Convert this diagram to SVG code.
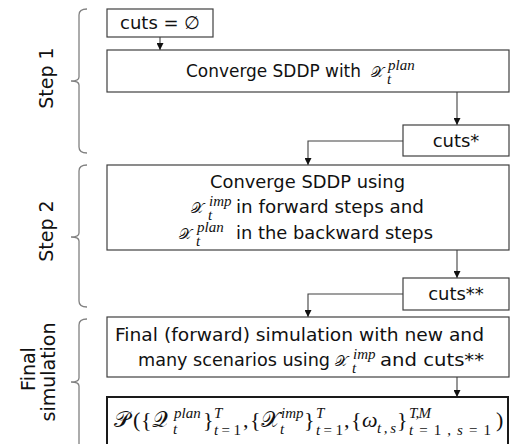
<svg xmlns="http://www.w3.org/2000/svg" width="510" height="444" viewBox="0 0 510 444">
<defs>
<style>
.box{fill:#fff;stroke:#404040;stroke-width:1.2}
.box2{fill:#fff;stroke:#1a1a1a;stroke-width:2}
.t{font-family:"DejaVu Sans","Liberation Sans",sans-serif;font-size:18px;fill:#111}
.c{text-anchor:middle}
.lab{font-family:"DejaVu Sans","Liberation Sans",sans-serif;font-size:19px;fill:#111;text-anchor:middle}
.m{font-family:"DejaVu Serif","Liberation Serif",serif;font-size:15px;fill:#111}
.mi{font-family:"Liberation Serif",serif;font-style:italic;font-size:15px;fill:#111}
.lx{font-family:"Liberation Serif","DejaVu Serif",serif;font-size:22px;fill:#111}
.lxs{font-family:"Liberation Serif",serif;font-size:15px;fill:#111}
.lxi{font-family:"Liberation Serif",serif;font-size:15px;font-style:italic;fill:#111}
.br{fill:none;stroke:#808080;stroke-width:1.3}
.cn{fill:none;stroke:#404040;stroke-width:1.1}
</style>
<marker id="ah" viewBox="0 0 10 10" refX="10" refY="5" markerWidth="7" markerHeight="7" markerUnits="userSpaceOnUse" orient="auto">
<path d="M0,0 L10,5 L0,10 z" fill="#111"/>
</marker>
</defs>

<g id="braces">
<path class="br" d="M87,9 Q79,9 79,15 V77 Q79,81 71,81 Q79,81 79,85 V147 Q79,153 87,153"/>
<path class="br" d="M87,165 Q79,165 79,171 V233 Q79,237 71,237 Q79,237 79,241 V301 Q79,307 87,307"/>
<path class="br" d="M87,319 Q79,319 79,325 V378 Q79,382 71,382 Q79,382 79,386 V460"/>
</g>

<g id="labels">
<text class="lab" transform="translate(53,78) rotate(-90)">Step 1</text>
<text class="lab" transform="translate(53,231) rotate(-90)">Step 2</text>
<text class="lab" transform="translate(35,369) rotate(-90)">Final</text>
<text class="lab" transform="translate(55,372) rotate(-90)">simulation</text>
</g>

<g id="connectors">
<path class="cn" d="M160,37 V50" marker-end="url(#ah)"/>
<path class="cn" d="M457,92 V125" marker-end="url(#ah)"/>
<path class="cn" d="M403,141 H308 V165" marker-end="url(#ah)"/>
<path class="cn" d="M457,250 V278" marker-end="url(#ah)"/>
<path class="cn" d="M403,294 H308 V317" marker-end="url(#ah)"/>
<path class="cn" d="M457,377 V397" marker-end="url(#ah)"/>
</g>

<g id="n-cuts0">
<rect class="box" x="107" y="9" width="106" height="28"/>
<text class="t c" x="160" y="29">cuts = ∅</text>
</g>

<g id="n-step1">
<rect class="box" x="107" y="50" width="402" height="42"/>
<text class="t" x="186" y="77" textLength="175" lengthAdjust="spacingAndGlyphs">Converge SDDP with</text>
<text class="m" x="371" y="77">𝒳</text>
<text class="mi" x="388" y="70">plan</text>
<text class="mi" x="387" y="84">t</text>
</g>

<g id="n-cuts1">
<rect class="box" x="403" y="125" width="106" height="31"/>
<text class="t c" x="456" y="147">cuts*</text>
</g>

<g id="n-step2">
<rect class="box" x="107" y="165" width="402" height="85"/>
<text class="t" x="210" y="188" textLength="195" lengthAdjust="spacingAndGlyphs">Converge SDDP using</text>
<text class="m" x="191" y="213">𝒳</text>
<text class="mi" x="209" y="206">imp</text>
<text class="mi" x="208" y="220">t</text>
<text class="t" x="236" y="213" textLength="188" lengthAdjust="spacingAndGlyphs">in forward steps and</text>
<text class="m" x="179" y="239">𝒳</text>
<text class="mi" x="197" y="232">plan</text>
<text class="mi" x="196" y="246">t</text>
<text class="t" x="236" y="239" textLength="197" lengthAdjust="spacingAndGlyphs">in the backward steps</text>
</g>

<g id="n-cuts2">
<rect class="box" x="403" y="278" width="106" height="32"/>
<text class="t c" x="456" y="300">cuts**</text>
</g>

<g id="n-final">
<rect class="box" x="107" y="317" width="402" height="60"/>
<text class="t" x="115" y="341" textLength="369" lengthAdjust="spacingAndGlyphs">Final (forward) simulation with new and</text>
<text class="t" x="138" y="366" textLength="192" lengthAdjust="spacingAndGlyphs">many scenarios using</text>
<text class="m" x="335" y="366">𝒳</text>
<text class="mi" x="353" y="359">imp</text>
<text class="mi" x="352" y="373">t</text>
<text class="t" x="380" y="366" textLength="104" lengthAdjust="spacingAndGlyphs">and cuts**</text>
</g>

<g id="n-result">
<rect class="box2" x="107" y="397" width="401" height="60"/>
<text class="lx" x="114" y="427" font-size="19">𝒫</text>
<text class="lx" x="133" y="427">(</text>
<text class="lx" x="141" y="427">{</text>
<text class="lx" x="152" y="427" font-size="19">𝒬</text>
<text class="lxi" x="174" y="418">plan</text>
<text class="lxi" x="173" y="434">t</text>
<text class="lx" x="203" y="427">}</text>
<text class="lxi" x="214" y="418">T</text>
<text class="lxs" x="214" y="435" textLength="27" lengthAdjust="spacing"><tspan font-style="italic">t</tspan>=1</text>
<text class="lx" x="243" y="427">,</text>
<text class="lx" x="250" y="427">{</text>
<text class="lx" x="261" y="427" font-size="19">𝒳</text>
<text class="lxi" x="281" y="418">imp</text>
<text class="lxi" x="280" y="434">t</text>
<text class="lx" x="304" y="427">}</text>
<text class="lxi" x="316" y="418">T</text>
<text class="lxs" x="316" y="435" textLength="27" lengthAdjust="spacing"><tspan font-style="italic">t</tspan>=1</text>
<text class="lx" x="344" y="427">,</text>
<text class="lx" x="351" y="427">{</text>
<text class="lx" x="362" y="427" font-style="italic">ω</text>
<text class="lxi" x="377" y="433" textLength="19" lengthAdjust="spacing">t,s</text>
<text class="lx" x="397" y="427">}</text>
<text class="lxi" x="409" y="418" textLength="22" lengthAdjust="spacing">T,M</text>
<text class="lxs" x="409" y="435" textLength="82" lengthAdjust="spacing"><tspan font-style="italic">t</tspan>=1,<tspan font-style="italic">s</tspan>=1</text>
<text class="lx" x="496" y="427">)</text>
</g>
</svg>
